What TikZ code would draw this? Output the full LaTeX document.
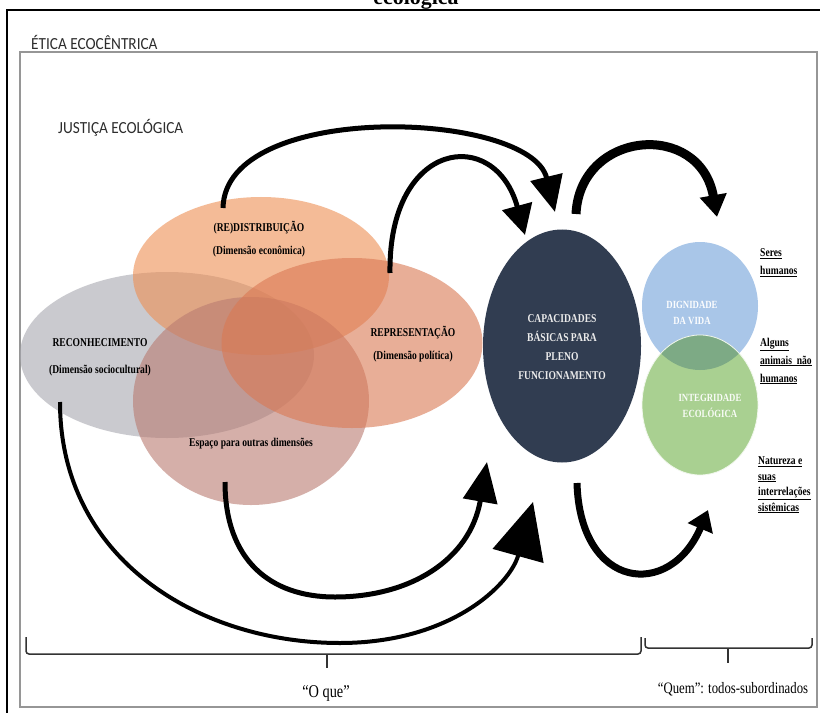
\documentclass[tikz,border=0pt]{standalone}
\usepackage{fontspec}
\setmainfont{Liberation Serif}[FakeStretch=0.8]
\newfontfamily\carl{Carlito}[FakeStretch=0.9]
\newfontfamily\headfont{Liberation Serif}
\usetikzlibrary{shapes.geometric,arrows.meta}
\definecolor{cRedist}{RGB}{238,143,83}
\definecolor{cRepres}{RGB}{218,120,83}
\definecolor{cRecon}{RGB}{168,168,175}
\definecolor{cEspaco}{RGB}{185,123,113}
\definecolor{cCap}{RGB}{49,61,81}
\definecolor{cBlue}{RGB}{169,198,232}
\definecolor{cGreen}{RGB}{169,208,145}
\definecolor{cOverlap}{RGB}{125,170,133}
\definecolor{cFrame}{RGB}{150,150,150}
\definecolor{cTitle}{RGB}{45,45,45}
\begin{document}
\begin{tikzpicture}[x=1bp,y=-1bp,
  venn/.style={ellipse, inner sep=0pt, draw=none, fill opacity=0.6},
  vtxt/.style={font=\bfseries\fontsize{12}{23}\selectfont, align=center, text=black},
  captxt/.style={font=\bfseries\fontsize{12}{19}\selectfont, align=center, text=white!92!black},
  circtxt/.style={font=\bfseries\fontsize{11}{15.5}\selectfont, align=center, text=white!96!cBlue},
  rlab/.style={font=\bfseries\fontsize{12}{18}\selectfont, align=left, anchor=west, inner sep=0pt},
  heading/.style={font=\carl\fontsize{17}{17}\selectfont, text=cTitle, anchor=west, inner sep=0pt},
  arr/.style={draw=black, line width=5bp},
  brc/.style={draw=black!80, line width=1.5bp, rounded corners=3bp}
]
\useasboundingbox (0,0) rectangle (820,713);
\fill[white] (0,0) rectangle (820,713);

% frames
\draw[line width=2bp, black] (7,10) rectangle (840,740);
\draw[line width=1.2bp, cFrame] (20,52) rectangle (817,707);

% cut-off title
\node[font=\headfont\bfseries\fontsize{22}{22}\selectfont, anchor=base, inner sep=0pt] (toptitle) at (416,5) {ecológica};

% headings
\node[heading] (etica) at (31,42) {ÉTICA ECOCÊNTRICA};
\node[heading] (justica) at (58,128) {JUSTIÇA ECOLÓGICA};

% Venn ellipses
\node[venn, fill=cRecon, minimum width=294bp, minimum height=166bp] (recon) at (167,355) {};
\node[venn, fill=cRedist, minimum width=256bp, minimum height=158bp] (redist) at (261,276) {};
\node[venn, fill=cEspaco, minimum width=236bp, minimum height=208bp] (espaco) at (251,401) {};
\node[venn, fill=cRepres, minimum width=261bp, minimum height=170bp] (repres) at (352,343) {};

% Venn labels
\node[vtxt] (tredist) at (259,239) {(RE)DISTRIBUIÇÃO\\(Dimensão econômica)};
\node[vtxt] (trepres) at (413,344) {REPRESENTAÇÃO\\(Dimensão política)};
\node[vtxt, font=\bfseries\fontsize{12}{27}\selectfont] (trecon) at (100,357) {RECONHECIMENTO\\(Dimensão sociocultural)};
\node[vtxt] (tespaco) at (251,444) {Espaço para outras dimensões};

% capacidades
\node[ellipse, fill=cCap, inner sep=0pt, minimum width=158bp, minimum height=233bp] (cap) at (562,346) {};
\node[captxt] (tcap) at (562,347) {CAPACIDADES\\BÁSICAS PARA\\PLENO\\FUNCIONAMENTO};

% dignidade / integridade
\node[ellipse, fill=cBlue, inner sep=0pt, minimum width=116bp, minimum height=128bp] (dign) at (700,306) {};
\node[ellipse, fill=cGreen, inner sep=0pt, minimum width=116bp, minimum height=140bp] (integ) at (700,405) {};
\begin{scope}
  \clip (700,306) ellipse [x radius=58, y radius=64];
  \fill[cOverlap] (700,405) ellipse [x radius=58, y radius=70];
\end{scope}
\draw[white!85!cGreen, line width=0.8bp] (700,405) ellipse [x radius=58, y radius=70];
\node[circtxt] (tdign) at (692,313) {DIGNIDADE\\DA VIDA};
\node[circtxt, text=white!92!cGreen] (tinteg) at (710,406) {INTEGRIDADE\\ECOLÓGICA};

% right labels
\node[rlab] (seres) at (760,263) {\underline{Seres}\\\underline{humanos}};
\node[rlab] (alguns) at (760,361) {\underline{Alguns}\\\underline{animais\ \ não}\\\underline{humanos}};
\node[rlab, font=\bfseries\fontsize{12}{15.5}\selectfont] (natureza) at (758,485) {\underline{Natureza e}\\\underline{suas}\\\underline{interrelações}\\\underline{sistêmicas}};

% arrow end points
\coordinate (a1s) at (223,208);
\coordinate (a1e) at (555,212);
\coordinate (a2s) at (390,273);
\coordinate (a2e) at (525,235);
\coordinate (a3s) at (576,214);
\coordinate (a3e) at (717,217);
\coordinate (a4s) at (577,483);
\coordinate (a4e) at (708,510);
\coordinate (a5s) at (225,482);
\coordinate (a5e) at (487,462);
\coordinate (a6s) at (60,402);
\coordinate (a6e) at (533,502);

% arrows
\draw[arr, -{Triangle[length=36bp,width=32bp]}] (a1s) .. controls (225,100) and (530,110) .. (a1e);
\draw[arr, -{Triangle[length=30bp,width=30bp]}] (a2s) .. controls (388,140) and (495,125) .. (a2e);
\draw[arr, line width=9bp, -{Triangle[length=22bp,width=26bp]}] (a3s) .. controls (580,130) and (700,120) .. (a3e);
\draw[arr, line width=7bp, -{Triangle[length=20bp,width=26bp]}] (a4s) .. controls (580,590) and (670,600) .. (a4e);
\draw[arr, -{Triangle[length=40bp,width=34bp]}] (a5s) .. controls (225,560) and (270,597) .. (335,597) .. controls (410,597) and (470,560) .. (a5e);
\draw[arr, line width=4bp, -{Triangle[length=56bp,width=52bp]}] (a6s) .. controls (60,560) and (200,643) .. (340,643) .. controls (450,643) and (510,585) .. (a6e);

% braces
\coordinate (b1l) at (26,637);
\coordinate (b1m) at (327,654);
\coordinate (b1r) at (641,637);
\coordinate (b1t) at (327,668);
\draw[brc] (b1l) |- (b1m) -| (b1r);
\draw[brc] (b1m) -- (b1t);
\coordinate (b2l) at (645,638);
\coordinate (b2m) at (728,648);
\coordinate (b2r) at (812,638);
\coordinate (b2t) at (728,663);
\draw[brc] (b2l) |- (b2m) -| (b2r);
\draw[brc] (b2m) -- (b2t);

\node[font=\fontsize{18}{18}\selectfont, inner sep=0pt] (oque) at (326,693) {“O que”};
\node[font=\fontsize{16}{16}\selectfont, inner sep=0pt] (quem) at (733,689) {“Quem”: todos-subordinados};
\end{tikzpicture}
\end{document}
